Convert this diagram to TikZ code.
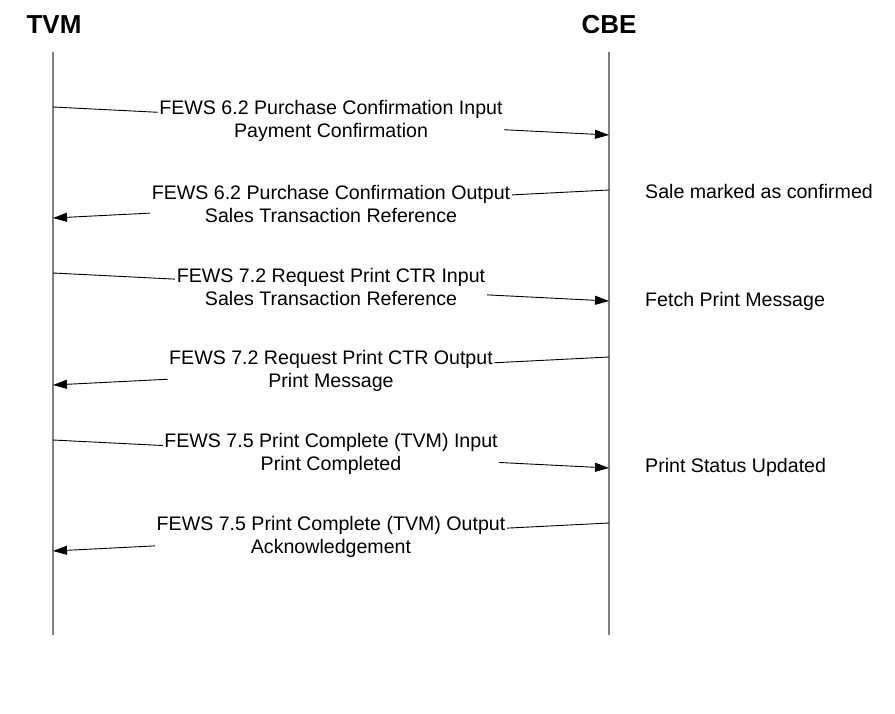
\documentclass[tikz,border=0pt]{standalone}
\usepackage{fontspec}
\setmainfont{Liberation Sans}
\usetikzlibrary{arrows.meta}
\begin{document}
\begin{tikzpicture}[x=1pt,y=-1pt,
  lifeline/.style={draw=black!50, line width=1.5pt},
  header/.style={font=\fontsize{26}{30}\selectfont\bfseries, anchor=center},
  msg/.style={draw=black, line width=0.9pt, -{Triangle[length=14pt,width=9pt]}},
  lbl/.style={fill=white, inner sep=1.5pt, align=center, font=\fontsize{19.6}{23.5}\selectfont},
  note/.style={anchor=west, inner sep=0pt, font=\fontsize{19.6}{23.5}\selectfont}]
\useasboundingbox (0,0) rectangle (895,713);
% headers
\node[header] (tvm) at (54,25) {TVM};
\node[header] (cbe) at (609,25) {CBE};
% lifelines
\coordinate (tvmtop) at (53,52);
\coordinate (tvmbot) at (53,635);
\coordinate (cbetop) at (609,52);
\coordinate (cbebot) at (609,635);
\draw[lifeline] (tvmtop) -- (tvmbot);
\draw[lifeline] (cbetop) -- (cbebot);
% message end points
\coordinate (a1) at (53,107);  \coordinate (b1) at (609,135);
\coordinate (b2) at (609,190); \coordinate (a2) at (53,218);
\coordinate (a3) at (53,273);  \coordinate (b3) at (609,301);
\coordinate (b4) at (609,357); \coordinate (a4) at (53,385);
\coordinate (a5) at (53,440);  \coordinate (b5) at (609,468);
\coordinate (b6) at (609,523); \coordinate (a6) at (53,551);
% messages
\draw[msg] (a1) -- node[lbl] (l1) {FEWS 6.2 Purchase Confirmation Input\\Payment Confirmation} (b1);
\draw[msg] (b2) -- node[lbl] (l2) {FEWS 6.2 Purchase Confirmation Output\\Sales Transaction Reference} (a2);
\draw[msg] (a3) -- node[lbl] (l3) {FEWS 7.2 Request Print CTR Input\\Sales Transaction Reference} (b3);
\draw[msg] (b4) -- node[lbl] (l4) {FEWS 7.2 Request Print CTR Output\\Print Message} (a4);
\draw[msg] (a5) -- node[lbl] (l5) {FEWS 7.5 Print Complete (TVM) Input\\Print Completed} (b5);
\draw[msg] (b6) -- node[lbl] (l6) {FEWS 7.5 Print Complete (TVM) Output\\Acknowledgement} (a6);
% notes
\node[note] (n1) at (645,191) {Sale marked as confirmed};
\node[note] (n2) at (645,301) {Fetch Print Message};
\node[note] (n3) at (645,467) {Print Status Updated};
\end{tikzpicture}
\end{document}
